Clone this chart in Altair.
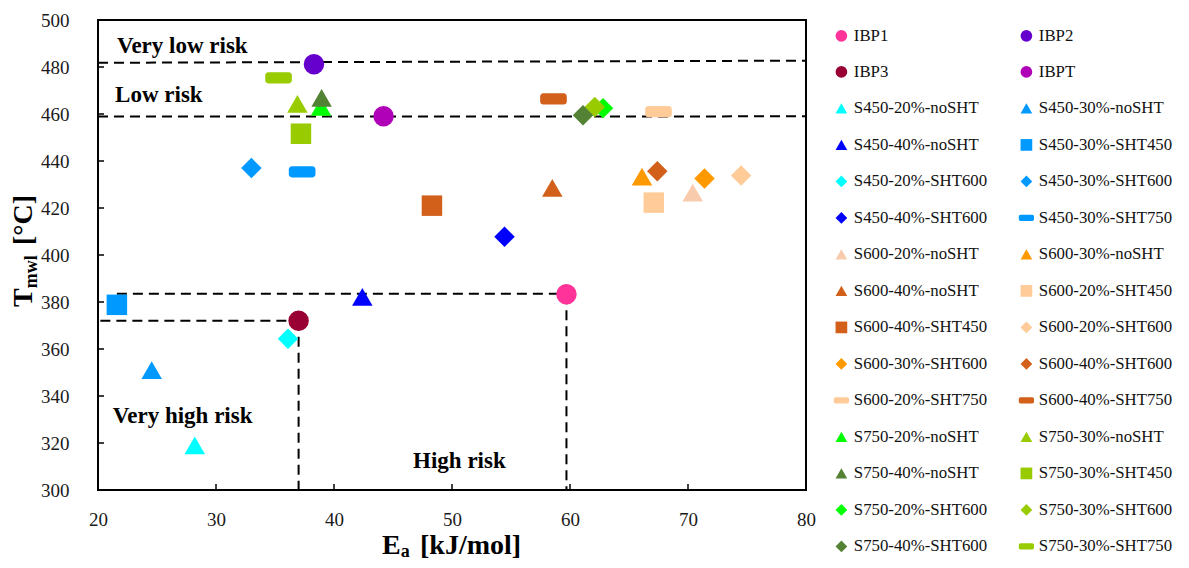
import altair as alt
import pandas as pd

# ---------------- data ----------------
series = ["IBP1", "IBP2", "IBP3", "IBPT",
          "S450-20%-noSHT", "S450-30%-noSHT", "S450-40%-noSHT", "S450-30%-SHT450",
          "S450-20%-SHT600", "S450-30%-SHT600", "S450-40%-SHT600", "S450-30%-SHT750",
          "S600-20%-noSHT", "S600-30%-noSHT", "S600-40%-noSHT", "S600-20%-SHT450",
          "S600-40%-SHT450", "S600-20%-SHT600", "S600-30%-SHT600", "S600-40%-SHT600",
          "S600-20%-SHT750", "S600-40%-SHT750", "S750-20%-noSHT", "S750-30%-noSHT",
          "S750-40%-noSHT", "S750-30%-SHT450", "S750-20%-SHT600", "S750-30%-SHT600",
          "S750-40%-SHT600", "S750-30%-SHT750"]
ea = [59.7, 38.3, 37.0, 44.2,
      28.2, 24.55, 42.4, 21.6,
      36.1, 33.0, 54.45, 37.3,
      70.4, 66.1, 58.5, 67.1,
      48.3, 74.5, 71.4, 67.4,
      67.5, 58.6, 38.9, 36.9,
      38.95, 37.2, 62.8, 62.1,
      61.1, 35.3]
tmwl = [383.3, 481.2, 372.0, 459.0,
        319.0, 351.0, 382.2, 378.8,
        364.4, 437.0, 407.8, 435.4,
        426.5, 433.3, 428.6, 422.3,
        421.0, 433.8, 432.6, 435.6,
        461.0, 466.4, 463.0, 464.3,
        466.9, 451.6, 462.5, 463.0,
        459.5, 475.4]
colors = ["#FF3399", "#6600CC", "#990033", "#B000B8",
          "#00FFFF", "#0099FF", "#0000FF", "#0099FF",
          "#00FFFF", "#0099FF", "#0000FF", "#0099FF",
          "#F8CBAD", "#FF9900", "#D2601A", "#FFCC99",
          "#D2601A", "#FFCC99", "#FF9900", "#D2601A",
          "#FFCC99", "#D2601A", "#00FF00", "#99CC00",
          "#548235", "#99CC00", "#00FF00", "#99CC00",
          "#548235", "#99CC00"]
kinds = ["circle", "circle", "circle", "circle",
         "triangle", "triangle", "triangle", "square",
         "diamond", "diamond", "diamond", "dash",
         "triangle", "triangle", "triangle", "square",
         "square", "diamond", "diamond", "diamond",
         "dash", "dash", "triangle", "triangle",
         "triangle", "square", "diamond", "diamond",
         "diamond", "dash"]

# dashed guide lines (start/end in data units)
line_x0 = [20.0, 20.0, 21.6, 20.2, 37.0, 59.7]
line_x1 = [80.0, 80.0, 59.7, 37.0, 37.0, 59.7]
line_y0 = [481.8, 458.9, 383.5, 372.0, 372.0, 383.3]
line_y1 = [482.7, 459.0, 383.5, 372.0, 300.0, 300.0]

# region notes
note_text = ["Very low risk", "Low risk", "Very high risk", "High risk"]
note_x = [21.6, 21.45, 21.25, 46.7]
note_y = [486.0, 465.3, 328.4, 309.2]

x_ticks = [20, 30, 40, 50, 60, 70, 80]
y_ticks = [300, 320, 340, 360, 380, 400, 420, 440, 460, 480, 500]
x_inner_ticks = [30, 40, 50, 60, 70]
y_inner_ticks = [320, 340, 360, 380, 400, 420, 440, 460, 480]

# ---------------- build ----------------
DASH = ("M-1.0,-0.55 L1.0,-0.55 A0.3,0.3 0 0 1 1.3,-0.25 L1.3,0.25 "
        "A0.3,0.3 0 0 1 1.0,0.55 L-1.0,0.55 A0.3,0.3 0 0 1 -1.3,0.25 "
        "L-1.3,-0.25 A0.3,0.3 0 0 1 -1.0,-0.55 Z")
shape_map = {"circle": "circle", "triangle": "triangle-up", "square": "square",
             "diamond": "diamond", "dash": DASH}
shapes = [shape_map[k] for k in kinds]

FONT = "Liberation Serif"
W, H = 708, 470
LEG_FS = 16.8

df = pd.DataFrame({"series": series, "ea": ea, "tmwl": tmwl})
lines_df = pd.DataFrame({"x0": line_x0, "x1": line_x1, "y0": line_y0, "y1": line_y1})
notes_df = pd.DataFrame({"t": note_text, "x": note_x, "y": note_y})

xscale = alt.Scale(domain=[20, 80], nice=False, zero=False)
yscale = alt.Scale(domain=[300, 500], nice=False, zero=False)

xaxis = alt.Axis(values=x_ticks, title=None, grid=False, ticks=False, tickSize=0,
                 domain=False, labelFont=FONT, labelFontSize=19, labelColor="#1a1a1a",
                 labelPadding=20, labelFlush=False)
yaxis = alt.Axis(values=y_ticks, title=None, grid=False, ticks=False, tickSize=0,
                 domain=False, labelFont=FONT, labelFontSize=19, labelColor="#1a1a1a",
                 labelPadding=29, labelFlush=False)

legend = alt.Legend(title=None, orient="none", legendX=735, legendY=7, columns=2,
                    direction="horizontal",
                    symbolSize=137, symbolStrokeWidth=0, labelFont=FONT,
                    labelFontSize=LEG_FS, labelColor="#111111", labelOffset=4,
                    rowPadding=18.5, columnPadding=30, labelLimit=400, padding=0,
                    symbolOpacity=1)

lines = alt.Chart(lines_df).mark_rule(color="black", strokeWidth=2,
                                      strokeDash=[10, 6]).encode(
    x=alt.X("x0:Q", scale=xscale, axis=xaxis),
    x2="x1:Q",
    y=alt.Y("y0:Q", scale=yscale, axis=yaxis),
    y2="y1:Q",
)

pts = alt.Chart(df).mark_point(filled=True, opacity=1, size=420, strokeWidth=0).encode(
    x=alt.X("ea:Q", scale=xscale, axis=xaxis),
    y=alt.Y("tmwl:Q", scale=yscale, axis=yaxis),
    color=alt.Color("series:N", scale=alt.Scale(domain=series, range=colors),
                    legend=legend, sort=series),
    shape=alt.Shape("series:N", scale=alt.Scale(domain=series, range=shapes),
                    legend=legend, sort=series),
)

xt = alt.Chart(pd.DataFrame({"t": x_inner_ticks})).mark_rule(
    color="black", strokeWidth=1.5).encode(
    x=alt.X("t:Q", scale=xscale, axis=xaxis), y=alt.value(H), y2=alt.value(H - 6))
yt = alt.Chart(pd.DataFrame({"t": y_inner_ticks})).mark_rule(
    color="black", strokeWidth=1.5).encode(
    y=alt.Y("t:Q", scale=yscale, axis=yaxis), x=alt.value(0), x2=alt.value(6))

notes = alt.Chart(notes_df).mark_text(
    align="left", baseline="alphabetic", font=FONT, fontWeight="bold",
    fontSize=23, color="black").encode(
    x=alt.X("x:Q", scale=xscale, axis=xaxis),
    y=alt.Y("y:Q", scale=yscale, axis=yaxis),
    text="t:N")


def label(txt, px, py, size, angle=0):
    mk = dict(align="left", baseline="alphabetic", font=FONT, fontWeight="bold",
              fontSize=size, color="black")
    if angle:
        mk["angle"] = angle
    return alt.Chart(pd.DataFrame({"t": [txt]})).mark_text(**mk).encode(
        text="t:N", x=alt.value(px), y=alt.value(py))


titles = [
    label("E", 284, 534, 28),
    label("a", 302.8, 536.5, 18),
    label("[kJ/mol]", 322, 534, 28),
    label("T", -66, 287, 28, 270),
    label("mwl", -61, 268.3, 18, 270),
    label("[°C]", -66, 225, 28, 270),
]

chart = alt.layer(lines, xt, yt, pts, notes, *titles).properties(
    width=W, height=H,
    padding={"left": 90, "top": 12, "right": 375, "bottom": 70},
    autosize=alt.AutoSizeParams(type="none"),
).configure_view(
    stroke="black", strokeWidth=2
).configure_axis(
    labelFont=FONT, labelFontSize=19, labelColor="#1a1a1a"
).configure_legend(
    labelFont=FONT, labelFontSize=LEG_FS, labelColor="#111111"
).configure_text(font=FONT)

chart.save("out.html", embed_options={"renderer": "svg", "actions": False})
